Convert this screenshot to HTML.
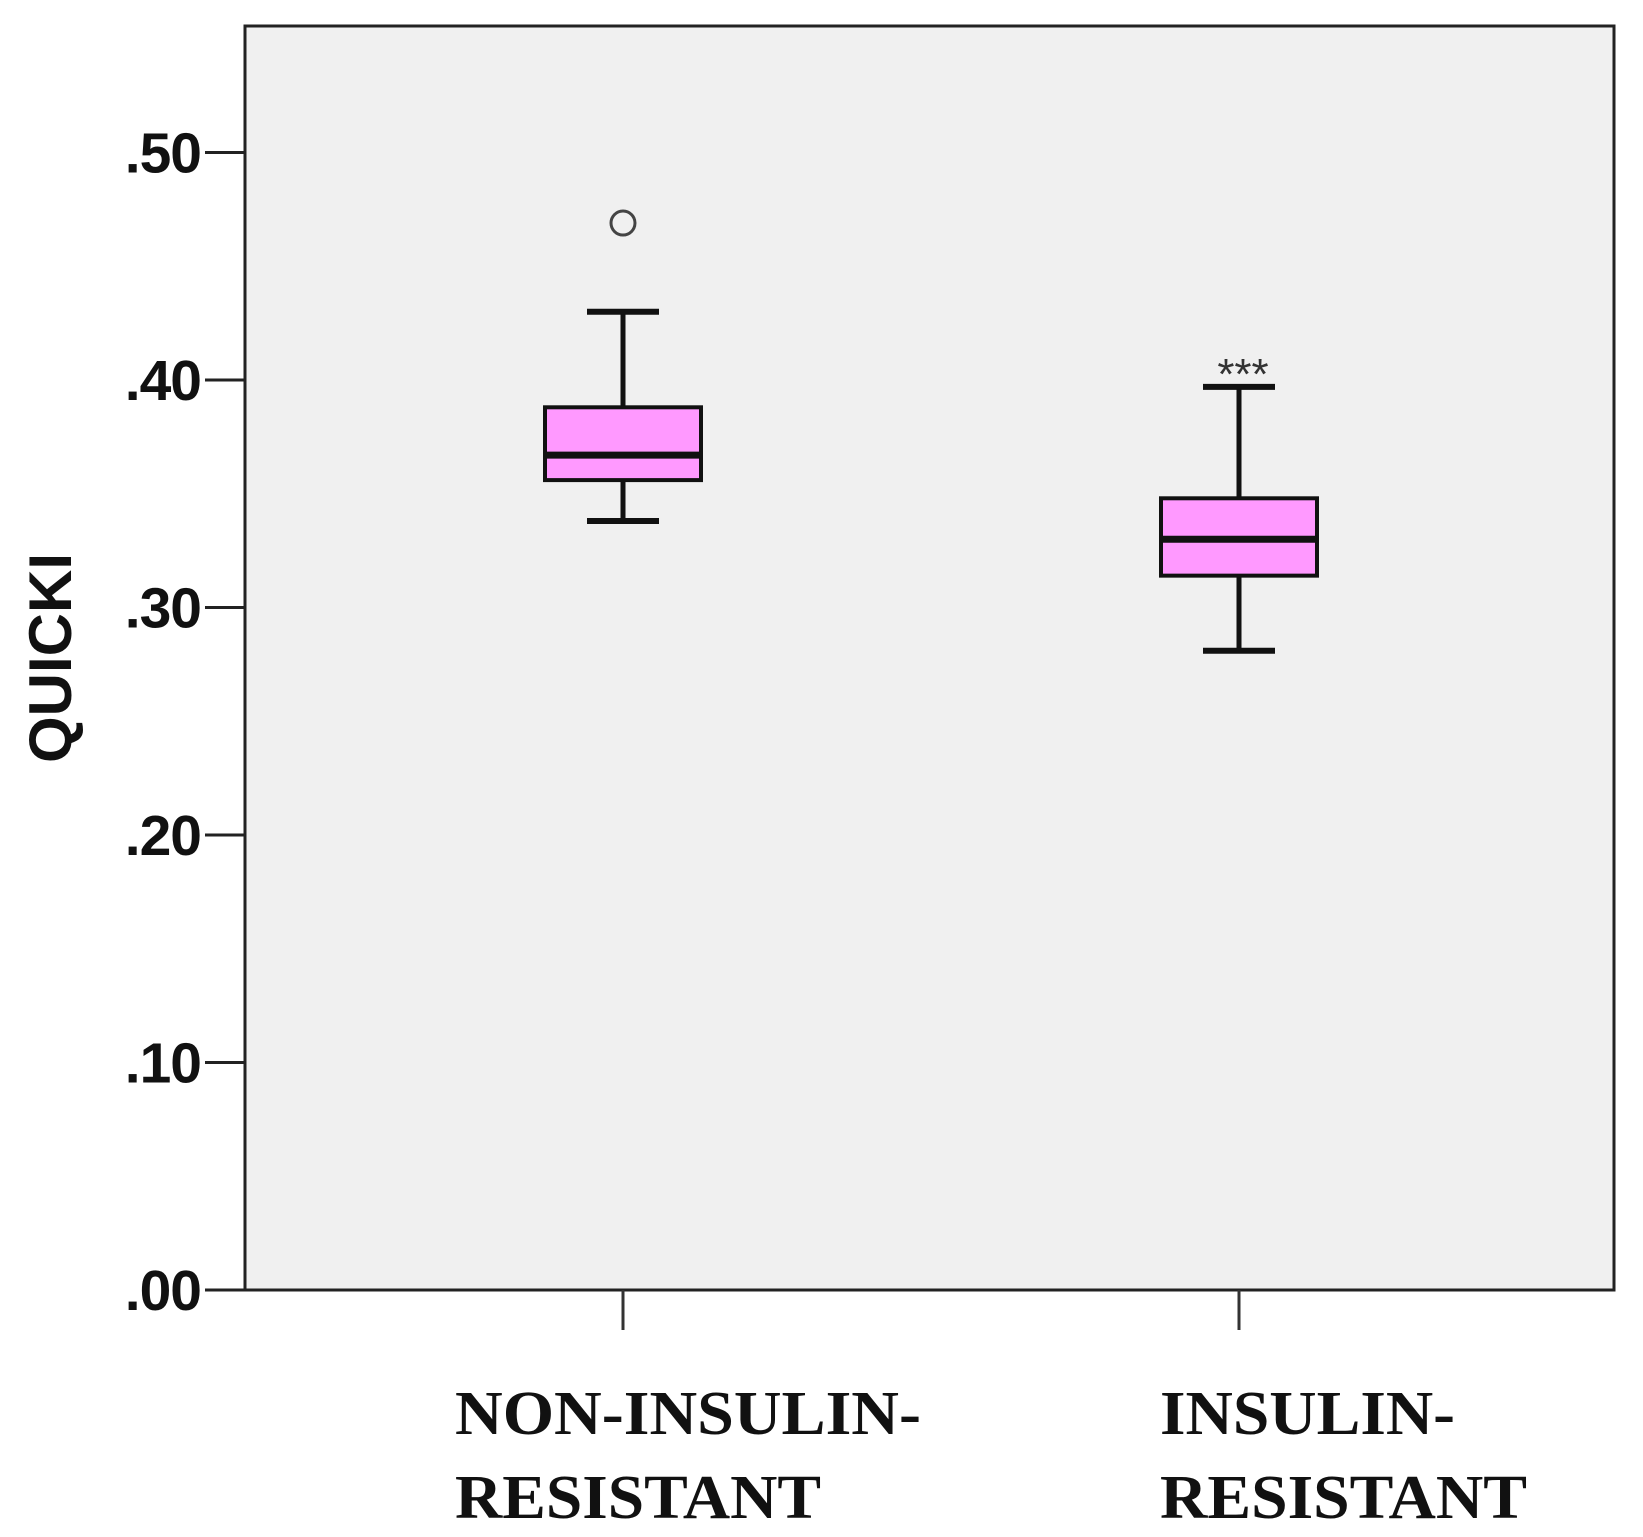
<!DOCTYPE html>
<html><head><meta charset="utf-8"><style>body{margin:0;background:#fff}svg{display:block}</style></head>
<body>
<svg id="chart" width="1643" height="1537" viewBox="0 0 1643 1537" xmlns="http://www.w3.org/2000/svg"></svg>
<script>
const categories = ["NON-INSULIN-|RESISTANT", "INSULIN-|RESISTANT"];
const q1 = [0.356, 0.314];
const median = [0.367, 0.330];
const q3 = [0.388, 0.348];
const whiskerLow = [0.338, 0.281];
const whiskerHigh = [0.430, 0.397];
const outliers = [[0.469], []];
const sigMarks = ["", "***"];
const yTicks = [0, 0.1, 0.2, 0.3, 0.4, 0.5];
const yTickLabels = [".00", ".10", ".20", ".30", ".40", ".50"];

const svg = document.getElementById('chart');
const NS = 'http://www.w3.org/2000/svg';
const L = 245, R = 1614, T = 26, B = 1290;
const yMax = (B - T) / 2275;
function y(v) { return B - v / yMax * (B - T); }
const xCenters = [623, 1239];
function x(i) { return xCenters[i]; }
function el(tag, attrs, parent) {
  const e = document.createElementNS(NS, tag);
  for (const k in attrs) e.setAttribute(k, attrs[k]);
  (parent || svg).appendChild(e);
  return e;
}
let e;
e = el('rect', {x: L, y: T, width: R - L, height: B - T, fill: '#f0f0f0', stroke: '#222', 'stroke-width': 3});



yTicks.forEach((v, i) => {
  const t = el('line', {x1: 205, x2: L, y1: y(v), y2: y(v), stroke: '#222', 'stroke-width': 3});
  
  
  const tx = el('text', {x: 201, y: y(v) + 20, 'text-anchor': 'end', 'font-family': 'Liberation Sans, Arial, sans-serif', 'font-size': 57, 'font-weight': 'bold', fill: '#111', 'letter-spacing': '-1'});
  tx.textContent = yTickLabels[i];
  
  
});

const yt = el('text', {x: 0, y: 0, transform: 'translate(71,658) rotate(-90)', 'text-anchor': 'middle', 'font-family': 'Liberation Sans, Arial, sans-serif', 'font-size': 60, 'font-weight': 'bold', fill: '#111'});
yt.textContent = 'QUICKI';



const boxW = 156, capW = 72;
const labelX = [[455, 455], [1160, 1160]];
const labelW = [[466, 366], [295, 367]];
categories.forEach((c, i) => {
  const cx = x(i);
  const g = el('g', {});
  
  
  const xt = el('line', {x1: cx, x2: cx, y1: B, y2: B + 40, stroke: '#333', 'stroke-width': 3}, g);
  
  
  const w1 = el('line', {x1: cx, x2: cx, y1: y(whiskerHigh[i]), y2: y(q3[i]), stroke: '#111', 'stroke-width': 5}, g);
  
  
  const w2 = el('line', {x1: cx, x2: cx, y1: y(q1[i]), y2: y(whiskerLow[i]), stroke: '#111', 'stroke-width': 5}, g);
  
  
  [whiskerHigh[i], whiskerLow[i]].forEach(v => {
    const cap = el('line', {x1: cx - capW / 2, x2: cx + capW / 2, y1: y(v), y2: y(v), stroke: '#111', 'stroke-width': 6}, g);
    
    
  });
  const box = el('rect', {x: cx - boxW / 2, y: y(q3[i]), width: boxW, height: y(q1[i]) - y(q3[i]), fill: '#ff99ff', stroke: '#111', 'stroke-width': 4}, g);
  
  
  const md = el('line', {x1: cx - boxW / 2, x2: cx + boxW / 2, y1: y(median[i]), y2: y(median[i]), stroke: '#111', 'stroke-width': 7}, g);
  
  
  outliers[i].forEach(v => {
    const o = el('circle', {cx: cx, cy: y(v), r: 12, fill: 'none', stroke: '#444', 'stroke-width': 3}, g);
    
    
  });
  if (sigMarks[i]) {
    const s = el('text', {x: cx + 4, y: y(whiskerHigh[i]) + 2, 'text-anchor': 'middle', 'font-family': 'Liberation Sans, Arial, sans-serif', 'font-size': 44, fill: '#333'}, g);
    s.textContent = sigMarks[i];
    
    
  }
  c.split('|').forEach((line, j) => {
    const t = el('text', {x: labelX[i][j], y: 1434 + j * 84, 'font-family': 'Liberation Serif, Times New Roman, serif', 'font-size': 62, 'font-weight': 'bold', fill: '#111', textLength: labelW[i][j], lengthAdjust: 'spacingAndGlyphs'}, g);
    t.textContent = line;
    
    
  });
});
</script>
</body></html>
